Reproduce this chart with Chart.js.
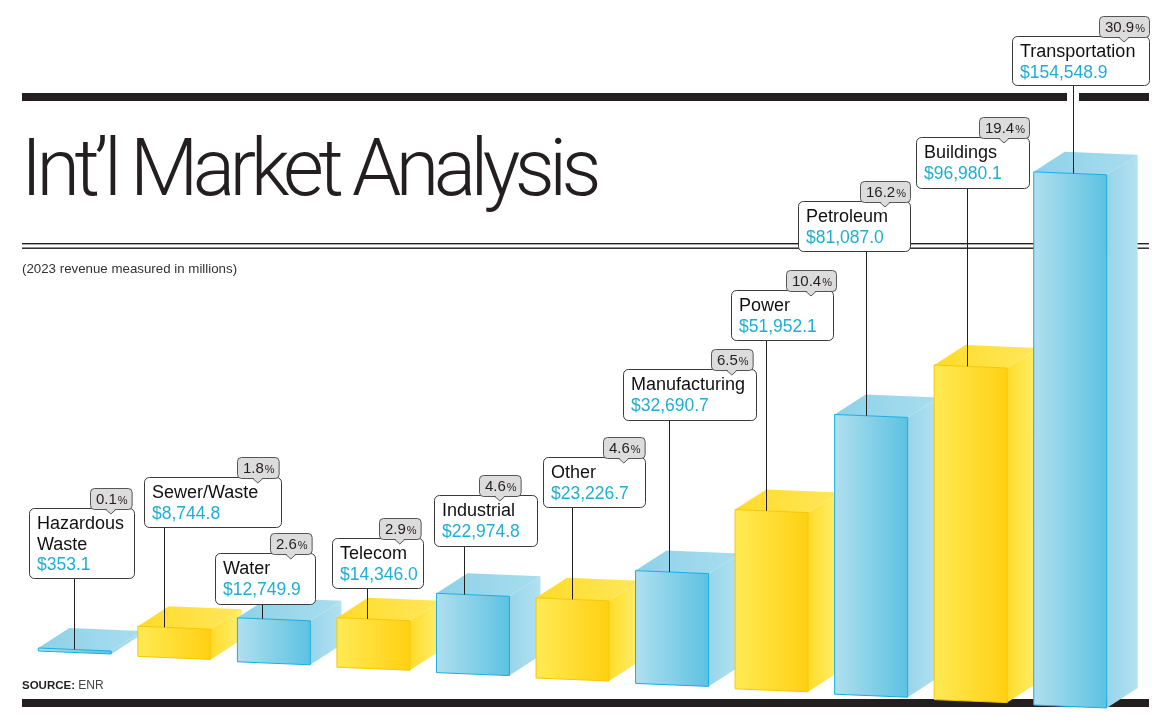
<!DOCTYPE html>
<html>
<head>
<meta charset="utf-8">
<title>Int'l Market Analysis</title>
<script src="https://cdn.jsdelivr.net/npm/chart.js@4.4.1/dist/chart.umd.min.js"></script>
<style>
    html, body { margin: 0; padding: 0; background: #fff; }
    #wrap { width: 1167px; height: 725px; }
</style>
</head>
<body>
<div id="wrap"><canvas id="barChart" width="1167" height="725"></canvas></div>
<script>
// Chart data (2023 revenue, $ millions)
var categories = [['Hazardous', 'Waste'], 'Sewer/Waste', 'Water', 'Telecom', 'Industrial', 'Other',
    'Manufacturing', 'Power', 'Petroleum', 'Buildings', 'Transportation'];
var revenue = [353.1, 8744.8, 12749.9, 14346.0, 22974.8, 23226.7, 32690.7, 51952.1, 81087.0, 96980.1, 154548.9];
var shares = [0.1, 1.8, 2.6, 2.9, 4.6, 4.6, 6.5, 10.4, 16.2, 19.4, 30.9];

// Label box layout: [left, top, width, height, tagLeft, leaderX]
var labelBoxes = [
    [29, 508, 105, 70, 90, 74],
    [144, 477, 137, 50, 237, 164],
    [215, 553, 100, 51, 270, 262],
    [332, 538, 91, 50, 379, 367],
    [434, 495, 103, 51, 479, 464],
    [543, 457, 102, 50, 603, 572],
    [623, 369, 133, 51, 711, 669],
    [731, 290, 102, 50, 786, 766],
    [798, 201, 112, 50, 860, 866],
    [916, 137, 113, 51, 979, 967],
    [1012, 36, 137, 49, 1099, 1073]
];

var blue = { front: ['#b0dfee', '#5cc2e2'], top: ['#8dd1e8', '#a9ddef'], side: ['#98d5ea', '#b3e1f1'], edge: '#1aaee0' };
var yellow = { front: ['#ffea55', '#ffd012'], top: ['#ffdb28', '#ffe75c'], side: ['#ffdc2a', '#ffef70'], edge: '#f5c800' };

var FONT = '"Liberation Sans", Arial, sans-serif';
var DEPTH_X = 31, DEPTH_Y = -20, TILT = 3, DROP = 5.4;

// Function to format the revenue labels
function money(v) {
    return '$' + v.toLocaleString('en-US', { minimumFractionDigits: 1, maximumFractionDigits: 1 });
}

// Function to get the drawn corners of one bar (shifted down for the perspective)
function barGeometry(el, i) {
    var drop = i * DROP;
    var shift = -2;
    return {
        x0: el.x - el.width / 2 + shift,
        x1: el.x + el.width / 2 + shift,
        top: el.y + drop,
        bot: el.base + drop
    };
}

function poly(ctx, pts, fill) {
    ctx.beginPath();
    ctx.moveTo(pts[0][0], pts[0][1]);
    for (var k = 1; k < pts.length; k++) ctx.lineTo(pts[k][0], pts[k][1]);
    ctx.closePath();
    ctx.fillStyle = fill;
    ctx.fill();
}

function hGrad(ctx, xa, xb, cols) {
    var g = ctx.createLinearGradient(xa, 0, xb, 0);
    g.addColorStop(0, cols[0]);
    g.addColorStop(1, cols[1]);
    return g;
}

// Function to draw one 3D bar
function drawBar(ctx, el, i) {
    var g = barGeometry(el, i);
    var pal = i % 2 === 0 ? blue : yellow;
    var x0 = g.x0, x1 = g.x1, t = g.top, b = g.bot;

    // side face
    poly(ctx, [[x1, t + TILT], [x1 + DEPTH_X, t + TILT + DEPTH_Y], [x1 + DEPTH_X, b + TILT + DEPTH_Y], [x1, b + TILT]],
        hGrad(ctx, x1, x1 + DEPTH_X, pal.side));
    // top face
    poly(ctx, [[x0, t], [x1, t + TILT], [x1 + DEPTH_X, t + TILT + DEPTH_Y], [x0 + DEPTH_X, t + DEPTH_Y]],
        hGrad(ctx, x0, x1 + DEPTH_X, pal.top));
    // front face
    poly(ctx, [[x0, t], [x1, t + TILT], [x1, b + TILT], [x0, b]], hGrad(ctx, x0, x1, pal.front));
    ctx.strokeStyle = pal.edge;
    ctx.lineWidth = 1;
    ctx.stroke();
}

// Function to draw title, rules and notes
function drawFrame(chart) {
    var ctx = chart.ctx;
    ctx.save();
    ctx.fillStyle = '#fff';
    ctx.fillRect(0, 0, chart.width, chart.height);

    ctx.fillStyle = '#231f20';
    ctx.fillRect(22, 93, 1127, 8);
    ctx.fillRect(22, 699, 1127, 8);
    ctx.fillRect(22, 243, 1127, 1.4);
    ctx.fillRect(22, 247.5, 1127, 1.4);

    // title, fitted to the width of the original
    var title = 'Int\u2019l Market Analysis';
    ctx.font = '300 79px Roboto, "Open Sans", sans-serif';
    ctx.letterSpacing = '0px';
    var w = ctx.measureText(title).width;
    ctx.letterSpacing = ((575 - w) / title.length) + 'px';
    ctx.textBaseline = 'alphabetic';
    ctx.fillStyle = '#231f20';
    ctx.fillText(title, 21, 195);
    ctx.letterSpacing = '0px';

    ctx.font = '13.3px ' + FONT;
    ctx.fillStyle = '#333';
    ctx.fillText('(2023 revenue measured in millions)', 22, 273);

    ctx.font = 'bold 11.5px ' + FONT;
    ctx.fillStyle = '#231f20';
    ctx.fillText('SOURCE:', 22, 689);
    var sw = ctx.measureText('SOURCE: ').width;
    ctx.font = '12px ' + FONT;
    ctx.fillStyle = '#444';
    ctx.fillText('ENR', 22 + sw, 689);
    ctx.restore();
}

// Function to draw the percentage tag above a label box
function drawTag(ctx, left, bottom, share) {
    var num = share.toFixed(1);
    ctx.font = '15px ' + FONT;
    var wn = ctx.measureText(num).width;
    ctx.font = '11px ' + FONT;
    var wp = ctx.measureText('%').width;
    var w = wn + wp + 11, h = 21, top = bottom - h;
    var cx = left + w / 2;

    ctx.beginPath();
    ctx.roundRect(left + 0.5, top + 0.5, w, h, 4);
    ctx.fillStyle = '#dddcdc';
    ctx.fill();
    ctx.strokeStyle = '#555';
    ctx.lineWidth = 1;
    ctx.stroke();

    // little pointer
    ctx.beginPath();
    ctx.moveTo(cx - 5, top + h - 0.5);
    ctx.lineTo(cx, top + h + 5);
    ctx.lineTo(cx + 5, top + h - 0.5);
    ctx.closePath();
    ctx.fill();
    ctx.beginPath();
    ctx.moveTo(cx - 5, top + h + 0.5);
    ctx.lineTo(cx, top + h + 5);
    ctx.lineTo(cx + 5, top + h + 0.5);
    ctx.stroke();

    ctx.fillStyle = '#231f20';
    ctx.textBaseline = 'alphabetic';
    ctx.font = '15px ' + FONT;
    ctx.fillText(num, left + 6, top + 16);
    ctx.font = '11px ' + FONT;
    ctx.fillText('%', left + 6 + wn + 1, top + 16);
}

// Function to draw label boxes with leader lines
function drawLabels(chart) {
    var ctx = chart.ctx;
    var meta = chart.getDatasetMeta(0);
    ctx.save();

    meta.data.forEach(function (el, i) {
        var box = labelBoxes[i];
        var g = barGeometry(el, i);
        var lx = box[5];
        var yEnd = g.top + TILT * (lx - g.x0) / (g.x1 - g.x0);
        var yStart = box[1] + box[3];

        // break the thick rule where the leader passes
        if (yStart < 93 && yEnd > 101) {
            ctx.fillStyle = '#fff';
            ctx.fillRect(lx - 6, 92, 12, 10);
        }
        ctx.beginPath();
        ctx.moveTo(lx + 0.5, yStart);
        ctx.lineTo(lx + 0.5, yEnd);
        ctx.strokeStyle = '#231f20';
        ctx.lineWidth = 1;
        ctx.stroke();
    });

    meta.data.forEach(function (el, i) {
        var box = labelBoxes[i];
        var left = box[0], top = box[1], w = box[2], h = box[3];

        ctx.beginPath();
        ctx.roundRect(left + 0.5, top + 0.5, w, h, 5);
        ctx.fillStyle = '#fff';
        ctx.fill();
        ctx.strokeStyle = '#3a3a3a';
        ctx.lineWidth = 1;
        ctx.stroke();

        var lines = Array.isArray(categories[i]) ? categories[i] : [categories[i]];
        ctx.textBaseline = 'alphabetic';
        ctx.font = '18px ' + FONT;
        ctx.fillStyle = '#111';
        lines.forEach(function (txt, k) {
            ctx.fillText(txt, left + 8, top + 21 + k * 21);
        });
        ctx.font = '17.5px ' + FONT;
        ctx.fillStyle = '#1eaed6';
        ctx.fillText(money(revenue[i]), left + 8, top + 21 + lines.length * 20.5);

        drawTag(ctx, box[4], top + 1, shares[i]);
    });
    ctx.restore();
}

var infographicPlugin = {
    id: 'infographic',
    beforeDraw: function (chart) {
        drawFrame(chart);
    },
    beforeDatasetsDraw: function (chart) {
        var ctx = chart.ctx;
        ctx.save();
        chart.getDatasetMeta(0).data.forEach(function (el, i) {
            drawBar(ctx, el, i);
        });
        ctx.restore();
        return false;
    },
    afterDraw: function (chart) {
        drawLabels(chart);
    }
};

// Function to generate bar chart
function generateBarChart() {
    var ctx = document.getElementById('barChart').getContext('2d');

    try {
        new Chart(ctx, {
            type: 'bar',
            data: {
                labels: categories,
                datasets: [{
                    label: 'Revenue',
                    data: revenue,
                    backgroundColor: revenue.map((v, i) => i % 2 === 0 ? blue.front[1] : yellow.front[1]),
                    barPercentage: 0.733,
                    categoryPercentage: 1,
                    minBarLength: 3
                }]
            },
            options: {
                responsive: false,
                animation: false,
                layout: {
                    padding: { left: 27, right: 45, top: 99, bottom: 74 }
                },
                scales: {
                    x: { display: false },
                    y: { display: false, min: 0, max: 160000 }
                },
                plugins: {
                    legend: { display: false },
                    tooltip: { enabled: false }
                }
            },
            plugins: [infographicPlugin]
        });
    } catch (error) {
        console.error('Error generating bar chart:', error);
    }
}

generateBarChart();
</script>
</body>
</html>
